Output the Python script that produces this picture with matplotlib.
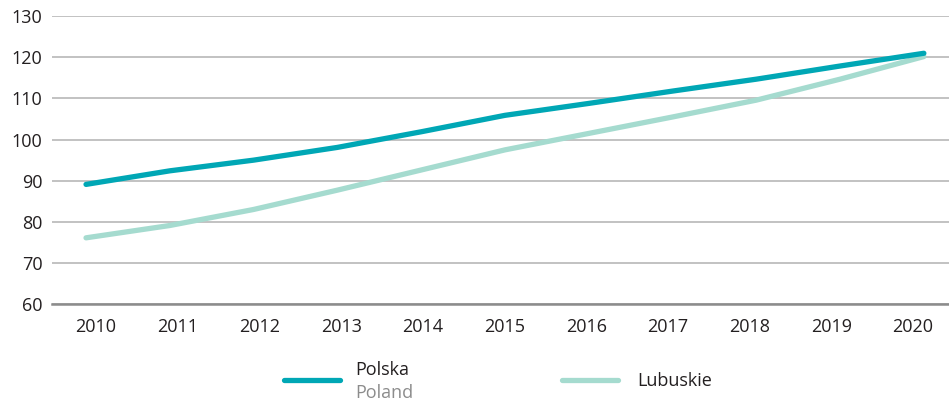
import matplotlib
matplotlib.use("Agg")
import matplotlib.pyplot as plt
from matplotlib.lines import Line2D
import numpy as np

plt.rcParams['font.family'] = ['Open Sans', 'DejaVu Sans']

years = [2010, 2011, 2012, 2013, 2014, 2015, 2016, 2017, 2018, 2019, 2020]
polska = [89.1, 92.4, 95.0, 98.1, 101.9, 105.9, 108.8, 111.8, 114.7, 117.9, 121.0]
lubuskie = [76.1, 79.1, 83.0, 87.7, 92.6, 97.5, 101.5, 105.5, 109.6, 114.7, 120.2]

teal = '#00a7b5'
mint = '#a5dbcf'
text_col = '#231f20'

fig = plt.figure(figsize=(9.49, 4.04), dpi=100)
ax = fig.add_axes([0.0548, 0.2475, 0.9452, 0.7122])

x = np.arange(len(years))
ax.plot(x, lubuskie, color=mint, lw=3.8, solid_capstyle='round', zorder=3)
ax.plot(x, polska, color=teal, lw=3.8, solid_capstyle='round', zorder=4)

ax.set_xlim(-0.406, 10.30)
ax.set_ylim(60, 130)
ax.set_yticks(range(60, 131, 10))
# year labels sit slightly off the data points in the original
ax.set_xticks(x * 0.975 + 0.12)
ax.set_xticklabels([str(y) for y in years])

ax.grid(axis='y', color='#b8b8b8', lw=1.2)
ax.set_axisbelow(True)
for s in ['top', 'right', 'left']:
    ax.spines[s].set_visible(False)
ax.spines['bottom'].set_color('#8c8c8c')
ax.spines['bottom'].set_linewidth(1.8)
ax.tick_params(length=0, labelsize=13, colors=text_col)
ax.tick_params(axis='x', pad=10)
ax.tick_params(axis='y', pad=7)

# legend drawn by hand (Polska has an English subtitle)
W, H = 949, 404
def fx(px):
    return px / W
def fy(py):
    return 1 - py / H

fig.add_artist(Line2D([fx(284), fx(340)], [fy(380), fy(380)], color=teal, lw=3.8,
                      solid_capstyle='round'))
fig.text(fx(355), fy(370), 'Polska', fontsize=13, color=text_col, va='center')
fig.text(fx(355), fy(393), 'Poland', fontsize=13, color='#8c8c8c', va='center')
fig.add_artist(Line2D([fx(562), fx(618)], [fy(380), fy(380)], color=mint, lw=3.8,
                      solid_capstyle='round'))
fig.text(fx(637), fy(381), 'Lubuskie', fontsize=13, color=text_col, va='center')

fig.savefig('out.png', dpi=100)
